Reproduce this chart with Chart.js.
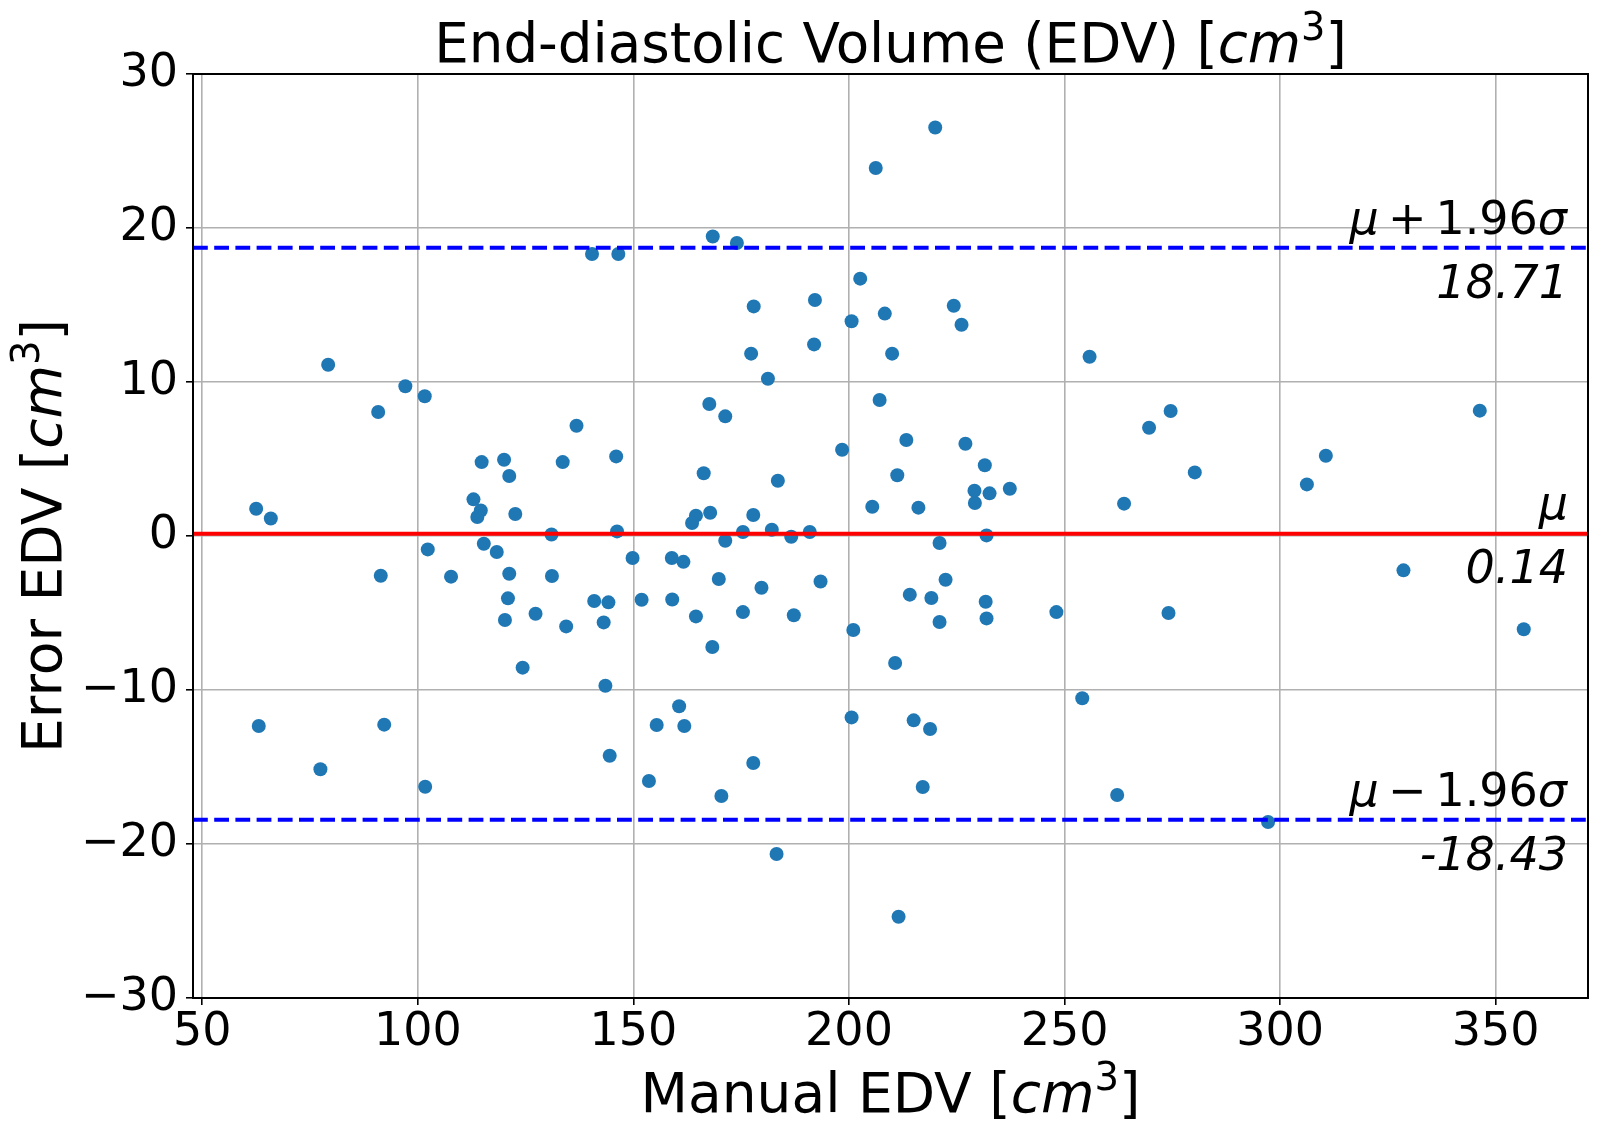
<!DOCTYPE html>
<html>
<head>
<meta charset="utf-8">
<script src="https://cdn.jsdelivr.net/npm/chart.js@4.4.1/dist/chart.umd.min.js"></script>
<style>
  html, body { margin: 0; padding: 0; background: #fff; }
  canvas { display: block; }
</style>
</head>
<body>
<canvas id="bland" width="1611" height="1140"></canvas>
<script>
// Bland-Altman data
const manualEdv = [
  62.5, 65.9, 79.2, 97.1, 101.6, 90.8, 136.8, 114.8, 120.0, 121.2,
  133.6, 146.0, 112.9, 114.6, 113.8, 122.6, 131.0, 146.2, 140.4, 146.5,
  102.3, 115.3, 118.3, 91.4, 107.7, 121.2, 131.1, 149.8, 158.9, 161.6,
  120.9, 120.2, 127.3, 134.4, 140.9, 144.2, 143.1, 151.9, 159.0, 124.3,
  143.5, 63.1, 92.2, 160.6, 155.4, 161.8, 77.4, 144.5, 153.6, 101.7,
  220.0, 206.2, 168.4, 174.0, 202.6, 177.9, 192.1, 200.6, 208.3, 224.3,
  226.1, 177.3, 191.9, 210.0, 181.2, 255.8, 167.6, 171.3, 207.1, 274.6,
  269.6, 198.4, 213.3, 227.0, 166.3, 183.5, 211.2, 231.5, 229.1, 232.6,
  229.2, 237.3, 205.4, 216.1, 263.8, 167.8, 164.5, 163.6, 177.8, 175.4,
  182.1, 186.6, 190.9, 231.9, 171.3, 221.0, 169.8, 179.7, 193.4, 164.5,
  175.4, 187.2, 168.3, 201.0, 214.1, 219.1, 222.4, 221.0, 231.7, 231.9,
  248.1, 274.1, 210.7, 200.6, 215.0, 218.8, 254.1, 177.8, 170.4, 217.1,
  262.2, 183.2, 211.5, 280.2, 310.6, 306.2, 346.3, 328.6, 356.5, 297.2
]
const errorEdv = [
  1.77, 1.14, 11.12, 9.72, 9.07, 8.05, 7.16, 4.80, 4.95, 3.90,
  4.80, 5.17, 2.38, 1.66, 1.23, 1.43, 0.10, 0.30, 18.31, 18.31,
  -0.87, -0.50, -1.04, -2.58, -2.64, -2.45, -2.60, -1.43, -1.43, -1.68,
  -4.05, -5.45, -5.05, -5.87, -4.22, -4.31, -5.61, -4.14, -4.12, -8.55,
  -9.72, -12.34, -12.25, -11.06, -12.27, -12.34, -15.15, -14.27, -15.91, -16.28,
  26.53, 23.90, 19.45, 19.03, 16.71, 14.91, 15.32, 13.94, 14.44, 14.95,
  13.72, 11.84, 12.44, 11.84, 10.21, 11.64, 8.57, 7.77, 8.83, 8.12,
  7.03, 5.60, 6.23, 5.99, 4.07, 3.59, 3.94, 4.59, 2.94, 2.77,
  2.14, 3.07, 1.90, 1.84, 2.10, 1.51, 1.32, 0.84, 1.36, 0.26,
  0.41, -0.05, 0.26, 0.04, -0.31, -0.45, -2.79, -3.36, -2.95, -5.22,
  -4.94, -5.15, -7.21, -6.10, -3.81, -4.03, -2.84, -5.58, -4.27, -5.35,
  -4.94, -5.00, -8.25, -11.78, -11.97, -12.53, -10.54, -14.74, -16.88, -16.30,
  -16.82, -20.65, -24.72, 4.13, 5.21, 3.35, 8.14, -2.23, -6.06, -18.57
]
const xTicks = [50, 100, 150, 200, 250, 300, 350]
const yTicks = [-30, -20, -10, 0, 10, 20, 30]
const meanDiff = 0.14
const upperLoa = 18.71
const lowerLoa = -18.43

const FONT = '"DejaVu Sans", "Liberation Sans", sans-serif'

// draw a line of text made of pieces (regular / italic / superscript / fixed gap)
function richText(ctx, parts, size, x, y, align) {
  const fontOf = p => (p.italic ? 'italic ' : '') + (p.sup ? size * 0.7 : size) + 'px ' + FONT
  let widths = parts.map(p => {
    if (p.gap) return p.gap
    ctx.font = fontOf(p)
    return ctx.measureText(p.text).width
  })
  let total = widths.reduce((a, b) => a + b, 0)
  let cx = align == 'right' ? x - total : align == 'center' ? x - total / 2 : x
  ctx.textAlign = 'left'
  ctx.textBaseline = 'alphabetic'
  ctx.fillStyle = '#000'
  parts.forEach((p, i) => {
    if (!p.gap) {
      ctx.font = fontOf(p)
      ctx.fillText(p.text, cx, y - (p.sup ? size * 0.4 : 0))
    }
    cx += widths[i]
  })
}

const unitParts = [{text: '['}, {text: 'cm', italic: true}, {text: '3', sup: true}, {text: ']'}]
const loaParts = sign => [{text: 'μ', italic: true}, {gap: 9}, {text: sign}, {gap: 9}, {text: '1.96'}, {text: 'σ', italic: true}]

const blandAltman = {
  id: 'blandAltman',
  afterDatasetsDraw(chart) {
    const {ctx, chartArea: {left, right, top, bottom}} = chart
    const y = chart.scales.y
    ctx.save()

    // mean and limits of agreement
    const lines = [
      {v: meanDiff, color: '#ff0000', dash: []},
      {v: upperLoa, color: '#0000ff', dash: [14.8, 6.4]},
      {v: lowerLoa, color: '#0000ff', dash: [14.8, 6.4]},
    ]
    lines.forEach(l => {
      let py = y.getPixelForValue(l.v)
      ctx.beginPath()
      ctx.setLineDash(l.dash)
      ctx.strokeStyle = l.color
      ctx.lineWidth = 4
      ctx.moveTo(left, py)
      ctx.lineTo(right, py)
      ctx.stroke()
    })
    ctx.setLineDash([])

    const tx = right - 21
    let pu = y.getPixelForValue(upperLoa)
    richText(ctx, loaParts('+'), 46, tx, pu - 14, 'right')
    richText(ctx, [{text: upperLoa.toFixed(2), italic: true}], 46, tx + 1, pu + 50, 'right')
    let pm = y.getPixelForValue(meanDiff)
    richText(ctx, [{text: 'μ', italic: true}], 46, tx + 1, pm - 15, 'right')
    richText(ctx, [{text: meanDiff.toFixed(2), italic: true}], 46, tx + 1, pm + 49, 'right')
    let pl = y.getPixelForValue(lowerLoa)
    richText(ctx, loaParts('\u2212'), 46, tx, pl - 14, 'right')
    richText(ctx, [{text: lowerLoa.toFixed(2), italic: true}], 46, tx + 1, pl + 50, 'right')

    // frame
    ctx.strokeStyle = '#000'
    ctx.lineWidth = 2
    ctx.strokeRect(left, top, right - left, bottom - top)

    // titles
    const cx = (left + right) / 2
    richText(ctx, [{text: 'End-diastolic Volume (EDV) '}, ...unitParts], 54.7, cx, top - 12.5, 'center')
    richText(ctx, [{text: 'Manual EDV '}, ...unitParts], 55, cx, bottom + 114, 'center')
    ctx.translate(left - 132.5, (top + bottom) / 2)
    ctx.rotate(-Math.PI / 2)
    richText(ctx, [{text: 'Error EDV '}, ...unitParts], 55, 0, 0, 'center')
    ctx.restore()
  }
}

const gridOpts = {
  color: '#b0b0b0',
  lineWidth: 1.6,
  tickColor: '#000',
  tickLength: 7,
  tickWidth: 1.6,
}
const tickFont = { family: FONT, size: 46, lineHeight: 1.2 }

let ctx = document.getElementById('bland')
let chart = new Chart(ctx, {
  type: 'scatter',
  data: {
    datasets: [{
      data: manualEdv.map((x, i) => ({x: x, y: errorEdv[i]})),
      backgroundColor: '#1f77b4',
      borderWidth: 0,
      pointRadius: 7,
      pointHoverRadius: 7,
    }]
  },
  options: {
    responsive: false,
    animation: false,
    devicePixelRatio: 1,
    layout: { padding: { top: 74, right: 23, left: 0, bottom: 0 } },
    plugins: {
      legend: { display: false },
      tooltip: { enabled: false },
    },
    scales: {
      x: {
        type: 'linear',
        min: 47.85,
        max: 371.4,
        afterBuildTicks: s => { s.ticks = xTicks.map(v => ({value: v})) },
        afterFit: s => { s.height = 142 },
        grid: gridOpts,
        border: { display: true, color: '#000', width: 2 },
        ticks: { font: tickFont, color: '#000', padding: 0, maxRotation: 0, autoSkip: false },
      },
      y: {
        type: 'linear',
        min: -30,
        max: 30,
        afterBuildTicks: s => { s.ticks = yTicks.map(v => ({value: v})) },
        afterFit: s => { s.width = 193 },
        grid: gridOpts,
        border: { display: true, color: '#000', width: 2 },
        ticks: {
          font: tickFont, color: '#000', padding: 8, autoSkip: false,
          callback: v => v < 0 ? '\u2212' + Math.abs(v) : '' + v,
        },
      },
    },
  },
  plugins: [blandAltman],
})
</script>
</body>
</html>
